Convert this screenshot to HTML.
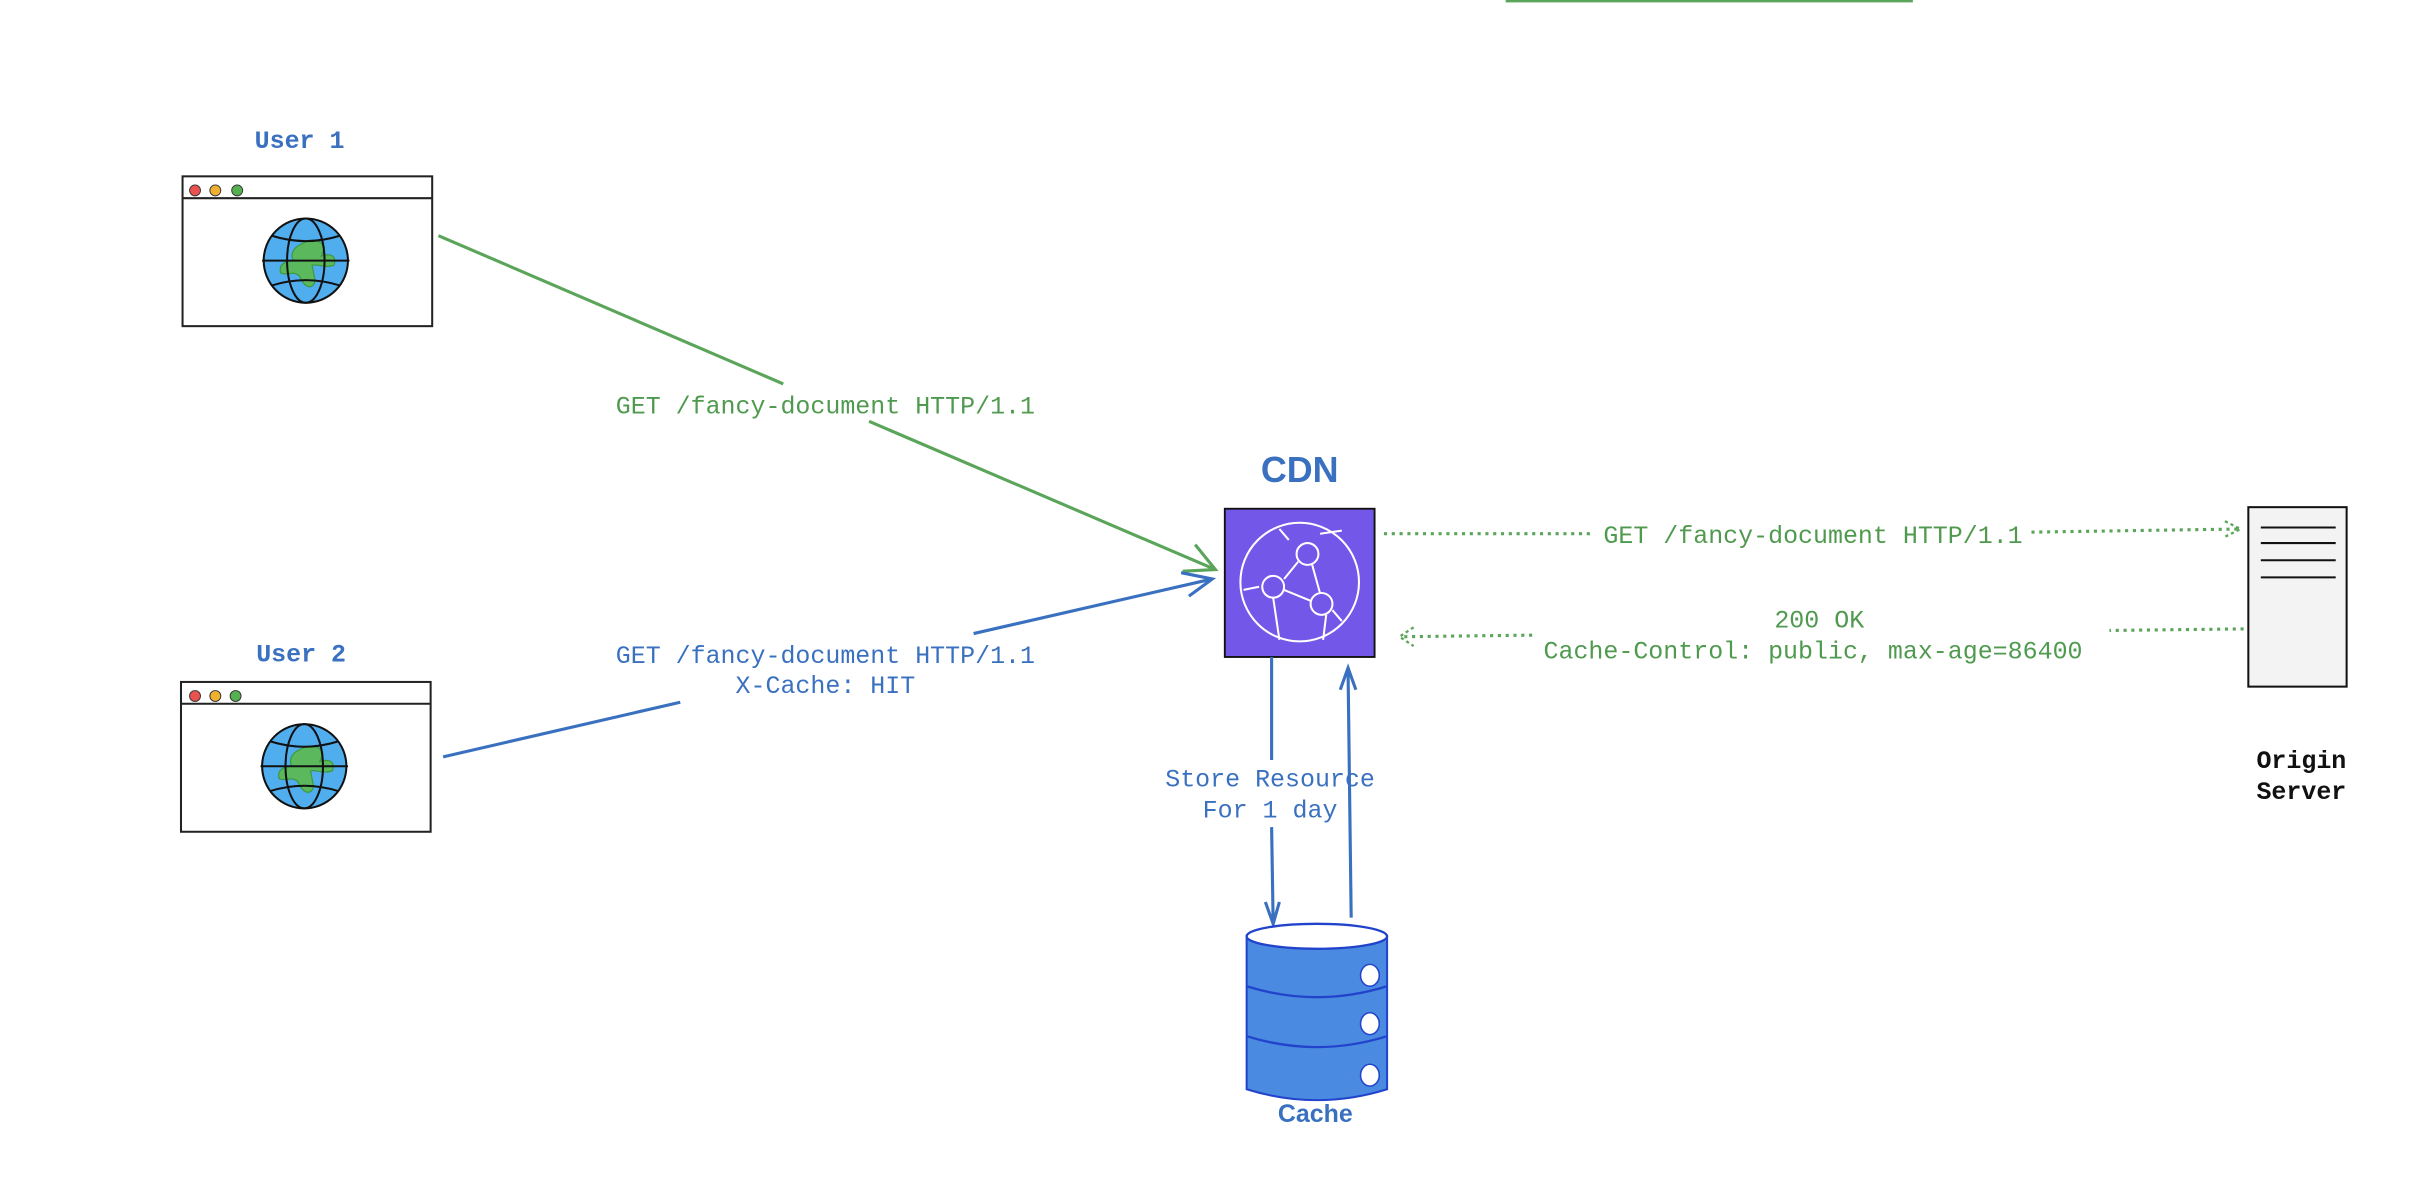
<!DOCTYPE html>
<html><head><meta charset="utf-8"><style>
html,body{margin:0;padding:0;background:#fff;}
svg{display:block;}
text{font-family:"Liberation Mono",monospace;}
</style></head><body>
<svg width="2434" height="1186" viewBox="0 0 1560 760" preserveAspectRatio="none" xmlns="http://www.w3.org/2000/svg">
<defs>
<g id="globe">
<circle cx="0" cy="0" r="27" fill="#50aeee" stroke="#111" stroke-width="1.3"/>
<path d="M-4,-10 C2,-14 10,-14 12,-8 L10,-3 C16,-5 20,-3 18,3 C12,5 8,2 4,3 L6,13 C4,20 -2,16 -4,10 C-8,6 -12,10 -16,8 C-18,2 -12,0 -8,0 C-10,-4 -8,-8 -4,-10 Z" fill="#5cb85c" stroke="#3d9a3d" stroke-width="0.8"/>
<ellipse cx="0" cy="0" rx="12" ry="27" fill="none" stroke="#111" stroke-width="1.3"/>
<line x1="-28" y1="0" x2="28" y2="0" stroke="#111" stroke-width="1.3"/>
<path d="M-22,-16 Q0,-9 22,-16 M-22,16 Q0,9 22,16" fill="none" stroke="#111" stroke-width="1.3"/>
</g>
</defs>
<line x1="965" y1="0" x2="1226" y2="0" stroke="#5aa55a" stroke-width="3"/>
<!-- User 1 -->
<text x="192" y="95" font-size="16" font-weight="bold" fill="#3a70c0" text-anchor="middle">User 1</text>
<rect x="117" y="113" width="160" height="96" fill="#fff" stroke="#222" stroke-width="1.3"/>
<line x1="117" y1="127" x2="277" y2="127" stroke="#222" stroke-width="1.3"/>
<circle cx="125" cy="122" r="3.5" fill="#e8534f" stroke="#333" stroke-width="0.6"/>
<circle cx="138" cy="122" r="3.5" fill="#f0b030" stroke="#333" stroke-width="0.6"/>
<circle cx="152" cy="122" r="3.5" fill="#55b050" stroke="#333" stroke-width="0.6"/>
<use href="#globe" x="196" y="167"/>
<!-- User 2 -->
<text x="193" y="424" font-size="16" font-weight="bold" fill="#3a70c0" text-anchor="middle">User 2</text>
<rect x="116" y="437" width="160" height="96" fill="#fff" stroke="#222" stroke-width="1.3"/>
<line x1="116" y1="451" x2="276" y2="451" stroke="#222" stroke-width="1.3"/>
<circle cx="125" cy="446" r="3.5" fill="#e8534f" stroke="#333" stroke-width="0.6"/>
<circle cx="138" cy="446" r="3.5" fill="#f0b030" stroke="#333" stroke-width="0.6"/>
<circle cx="151" cy="446" r="3.5" fill="#55b050" stroke="#333" stroke-width="0.6"/>
<use href="#globe" x="195" y="491"/>
<!-- green arrow user1 -->
<line x1="281" y1="151" x2="502" y2="246" stroke="#5aa55a" stroke-width="2"/>
<line x1="557" y1="270" x2="779" y2="365" stroke="#5aa55a" stroke-width="2"/>
<path d="M758,366 L779,365 L766,349" fill="none" stroke="#5aa55a" stroke-width="2"/>
<text x="529" y="265" font-size="16" fill="#4f9a4f" text-anchor="middle">GET /fancy-document HTTP/1.1</text>
<!-- blue arrow user2 -->
<line x1="284" y1="485" x2="436" y2="450" stroke="#3a70c0" stroke-width="2"/>
<line x1="624" y1="406" x2="777" y2="371" stroke="#3a70c0" stroke-width="2"/>
<path d="M757,367 L777,371 L762,382" fill="none" stroke="#3a70c0" stroke-width="2"/>
<text x="529" y="425" font-size="16" fill="#3a70c0" text-anchor="middle">GET /fancy-document HTTP/1.1</text>
<text x="529" y="444" font-size="16" fill="#3a70c0" text-anchor="middle">X-Cache: HIT</text>
<!-- CDN -->
<text x="833" y="309" font-size="23" font-weight="bold" fill="#3a70c0" text-anchor="middle" style="font-family:'Liberation Sans',sans-serif">CDN</text>
<rect x="785" y="326" width="96" height="95" fill="#7357e8" stroke="#111" stroke-width="1.2"/>
<g fill="none" stroke="#fff" stroke-width="1.3">
<circle cx="833" cy="373" r="38"/>
<circle cx="838" cy="355" r="7"/>
<circle cx="816" cy="376" r="7"/>
<circle cx="847" cy="387" r="7"/>
<path d="M823,371 L832,360 M823,378 L840,385 M841,362 L846,380 M816,383 L820,410 M850,394 L848,410 M797,378 L807,376 M820,339 L826,346 M846,342 L860,340 M854,391 L860,398"/>
</g>
<!-- dotted to origin -->
<line x1="887" y1="342" x2="1022" y2="342" stroke="#5aa55a" stroke-width="2" stroke-dasharray="2,3"/>
<line x1="1302" y1="341" x2="1434" y2="339" stroke="#5aa55a" stroke-width="2" stroke-dasharray="2,3"/>
<path d="M1426,334 L1436,339 L1426,344" fill="none" stroke="#5aa55a" stroke-width="1.5" stroke-dasharray="2,2"/>
<text x="1162" y="348" font-size="16" fill="#4f9a4f" text-anchor="middle">GET /fancy-document HTTP/1.1</text>
<!-- dotted return -->
<line x1="1438" y1="403" x2="1352" y2="404" stroke="#5aa55a" stroke-width="2" stroke-dasharray="2,3"/>
<line x1="982" y1="407" x2="900" y2="408" stroke="#5aa55a" stroke-width="2" stroke-dasharray="2,3"/>
<path d="M906,402 L897,408 L906,414" fill="none" stroke="#5aa55a" stroke-width="1.5" stroke-dasharray="2,2"/>
<text x="1166" y="402" font-size="16" fill="#4f9a4f" text-anchor="middle">200 OK</text>
<text x="1162" y="422" font-size="16" fill="#4f9a4f" text-anchor="middle">Cache-Control: public, max-age=86400</text>
<!-- Origin server -->
<rect x="1441" y="325" width="63" height="115" fill="#f3f3f3" stroke="#111" stroke-width="1.3"/>
<g stroke="#111" stroke-width="1.3">
<line x1="1449" y1="338" x2="1497" y2="338"/>
<line x1="1449" y1="348" x2="1497" y2="348"/>
<line x1="1449" y1="359" x2="1497" y2="359"/>
<line x1="1449" y1="370" x2="1497" y2="370"/>
</g>
<text x="1475" y="492" font-size="16" font-weight="bold" fill="#111" text-anchor="middle">Origin</text>
<text x="1475" y="512" font-size="16" font-weight="bold" fill="#111" text-anchor="middle">Server</text>
<!-- cache lines -->
<line x1="815" y1="421" x2="815" y2="487" stroke="#3a70c0" stroke-width="2"/>
<line x1="815" y1="530" x2="816" y2="592" stroke="#3a70c0" stroke-width="2"/>
<path d="M811,578 L816,592 L820,578" fill="none" stroke="#3a70c0" stroke-width="2"/>
<line x1="866" y1="588" x2="864" y2="430" stroke="#3a70c0" stroke-width="2"/>
<path d="M859,442 L864,428 L869,442" fill="none" stroke="#3a70c0" stroke-width="2"/>
<text x="814" y="504" font-size="16" fill="#3a70c0" text-anchor="middle">Store Resource</text>
<text x="814" y="524" font-size="16" fill="#3a70c0" text-anchor="middle">For 1 day</text>
<!-- cylinder -->
<path d="M799,600 L799,698 Q844,712 889,698 L889,600 Z" fill="#4a8ae0" stroke="#2244cc" stroke-width="1.3"/>
<ellipse cx="844" cy="600" rx="45" ry="8" fill="#fff" stroke="#2244cc" stroke-width="1.5"/>
<path d="M799,632 Q844,646 889,632 M799,664 Q844,678 889,664" fill="none" stroke="#2244cc" stroke-width="1.5"/>
<ellipse cx="878" cy="625" rx="6" ry="7" fill="#fff" stroke="#2244cc"/>
<ellipse cx="878" cy="656" rx="6" ry="7" fill="#fff" stroke="#2244cc"/>
<ellipse cx="878" cy="689" rx="6" ry="7" fill="#fff" stroke="#2244cc"/>
<text x="843" y="719" font-size="16" font-weight="bold" fill="#3a70c0" text-anchor="middle" style="font-family:'Liberation Sans',sans-serif">Cache</text>
</svg>
</body></html>
